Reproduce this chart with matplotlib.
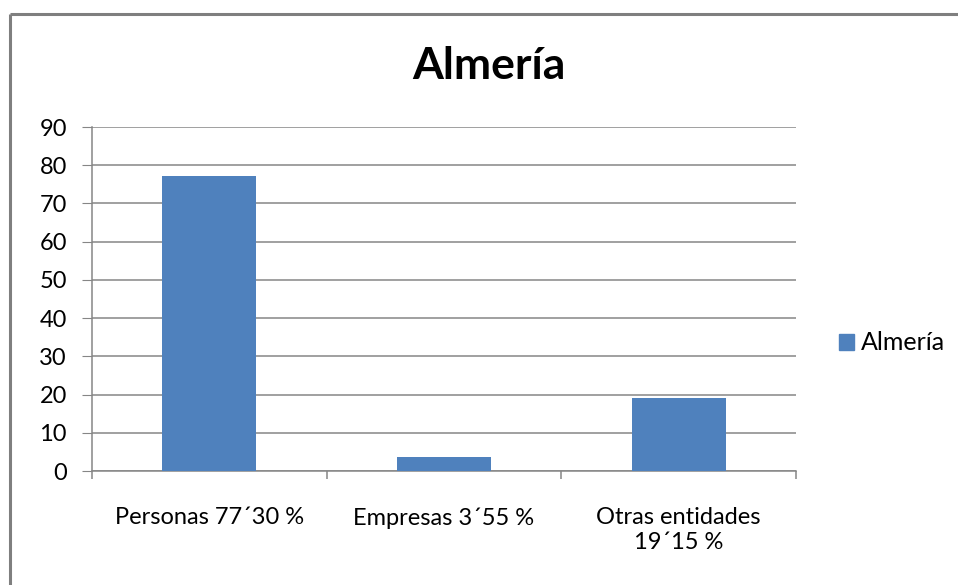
import matplotlib
matplotlib.use("Agg")
import matplotlib.pyplot as plt
from matplotlib.patches import Patch

categories = ["Personas 77´30 %", "Empresas 3´55 %", "Otras entidades\n19´15 %"]
values = [77.30, 3.55, 19.15]
yticks = [0, 10, 20, 30, 40, 50, 60, 70, 80, 90]
series_name = "Almería"

plt.rcParams["font.family"] = ["Lato", "DejaVu Sans"]
bar_color = "#4f81bd"
grid_color = "#868686"

fig = plt.figure(figsize=(9.58, 5.85), dpi=100)

# outer chart frame: only top and left edges are visible in the crop
bx, by = 10 / 958, 1 - 14 / 585
frame = fig.add_axes([bx, -0.2, 1.3, by + 0.2])
frame.set_xlim(0, 1)
frame.set_ylim(0, 1)
frame.axis("off")
frame.plot([0, 1], [1, 1], color="#7f7f7f", linewidth=2.2, clip_on=False,
           solid_capstyle="butt")
frame.plot([0, 0], [0, 1], color="#7f7f7f", linewidth=2.2, clip_on=False,
           solid_capstyle="butt")

ax = fig.add_axes([92 / 958, 1 - 471 / 585, (796 - 92) / 958, (471 - 127) / 585])
x = range(len(categories))
ax.bar(x, values, width=0.4, color=bar_color, zorder=3)

ax.set_xlim(-0.5, len(categories) - 0.5)
ax.set_ylim(0, 90)
ax.set_yticks(yticks)
ax.tick_params(axis="y", length=7, color=grid_color, labelsize=17, pad=11)
ax.yaxis.grid(True, color=grid_color, linewidth=1.1, zorder=0)

ax.set_xticks([i - 0.5 for i in range(len(categories) + 1)], minor=False)
ax.set_xticklabels([])
ax.tick_params(axis="x", length=6, color=grid_color, width=1.1)
ax.set_xticks(list(x), minor=True)
ax.set_xticklabels(categories, minor=True, fontsize=17, linespacing=1.25)
ax.tick_params(axis="x", which="minor", length=0, pad=26)

for s in ["top", "right"]:
    ax.spines[s].set_visible(False)
for s in ["left", "bottom"]:
    ax.spines[s].set_color(grid_color)
    ax.spines[s].set_linewidth(1.1)

fig.text(489 / 958, 1 - 66 / 585, "Almería", ha="center", va="center",
         fontsize=32, fontweight="bold")

fig.legend(handles=[Patch(color=bar_color, label=series_name)],
           loc="center left", bbox_to_anchor=(816 / 958, 1 - 343 / 585),
           frameon=False, fontsize=18, handlelength=0.6, handleheight=0.6,
           handletextpad=0.3)

fig.savefig("out.png", dpi=100)
